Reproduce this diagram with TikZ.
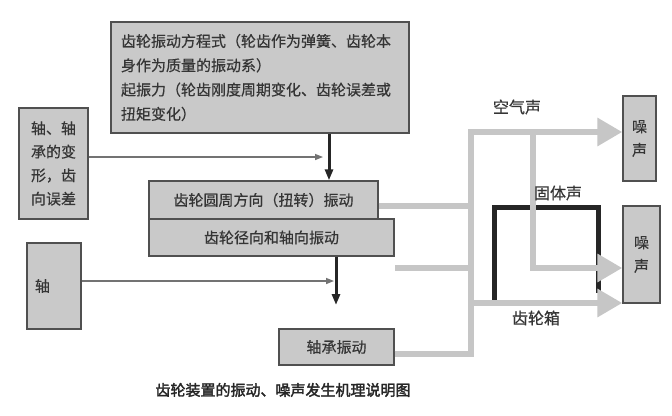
\documentclass[tikz,border=0pt]{standalone}
\usepackage{fontspec}
\setmainfont{Noto Sans CJK SC}[FakeBold=0.5]
\newfontfamily\capfont{Noto Sans CJK SC}[FakeBold=2.2]
\usetikzlibrary{arrows.meta}
\definecolor{boxfill}{HTML}{C9C9C9}
\definecolor{boxline}{HTML}{505050}
\definecolor{txt}{HTML}{353535}
\definecolor{graypath}{HTML}{C6C6C6}
\begin{document}
\begin{tikzpicture}[x=1pt,y=-1pt,
 box/.style={draw=boxline, line width=1.4pt, fill=boxfill, inner sep=0pt, text=txt,
   font=\fontsize{15}{23.5}\selectfont, align=center},
 blackarrow/.style={draw=black!85, line width=3pt, -{Triangle[length=11pt,width=8pt]}},
 thinarrow/.style={draw=black!55, line width=1.4pt, -{Triangle[length=8pt,width=6pt]}},
 graypipe/.style={draw=graypath, line width=6.5pt, line join=miter},
 grayarrow/.style={graypipe, -{Triangle[length=25pt,width=27pt]}},
 lbl/.style={text=txt, font=\fontsize{16}{18}\selectfont, inner sep=0pt}
]
\useasboundingbox[fill=white] (0,0) rectangle (672,415);

% boxes
\node[box, minimum width=298pt, minimum height=111pt, text width=278pt, align=left,
  font=\fontsize{15}{24.3}\selectfont] (top) at (260,77.5)
  {齿轮振动方程式（轮齿作为弹簧、齿轮本\\身作为质量的振动系）\\起振力（轮齿刚度周期变化、齿轮误差或\\扭矩变化）};
\node[box, minimum width=69pt, minimum height=111pt] (defo) at (53.5,163.5)
  {轴、轴\\承的变\\形，齿\\向误差};
\node[box, minimum width=54pt, minimum height=86pt, text width=38pt, align=left] (shaft) at (54,286) {轴};
\node[box, minimum width=245pt, minimum height=37pt] (radial) at (271.5,237.5) {齿轮径向和轴向振动};
\node[box, minimum width=229pt, minimum height=38pt] (circ) at (263.5,200) {齿轮圆周方向（扭转）振动};
\node[box, minimum width=115pt, minimum height=36pt] (bear) at (336.5,347) {轴承振动};
\node[box, minimum width=33pt, minimum height=85pt] (n1) at (639.5,138.5) {噪\\声};
\node[box, minimum width=37pt, minimum height=97pt] (n2) at (641.5,254.5) {噪\\声};

% black arrows
\draw[blackarrow] (top.south -| 329,0) -- (circ.north -| 329,0);
\coordinate (bend) at (336,305);
\draw[blackarrow] (radial.south -| bend) -- (bend);

% thin arrows
\coordinate (t1) at (323,157);
\draw[thinarrow] (defo.east |- t1) -- (t1);
\coordinate (t2) at (334,281);
\draw[thinarrow] (shaft.east |- t2) -- (t2);

% gearbox (black bracket)
\draw[black!85, line width=5pt, line join=miter] (494,300) -- (494,207) -- (598,207) -- (598,293);

% gray sound paths
\coordinate (ja) at (471,206);
\coordinate (sb) at (395,268);
\coordinate (jb) at (471,268);
\coordinate (jc) at (471,354);
\coordinate (jtop) at (471,132);
\coordinate (kt) at (533,132);
\coordinate (kb) at (533,268);
\coordinate (jg) at (471,303);
\draw[graypipe] (circ.east |- ja) -- (ja);
\draw[graypipe] (sb) -- (jb);
\draw[grayarrow] (bear.east |- jc) -- (jc) -- (jtop) -- (n1.west |- jtop);
\draw[grayarrow] (kt) -- (kb) -- (n2.west |- kb);
\draw[grayarrow] (jg) -- (n2.west |- jg);

% labels
\node[lbl] (air) at (517,107) {空气声};
\node[lbl] (solid) at (558,193) {固体声};
\node[lbl] (gbox) at (536,318) {齿轮箱};
\node[text=black!85, font=\capfont\fontsize{15}{18}\selectfont, inner sep=0pt] (cap) at (283,390)
  {齿轮装置的振动、噪声发生机理说明图};
\end{tikzpicture}
\end{document}
